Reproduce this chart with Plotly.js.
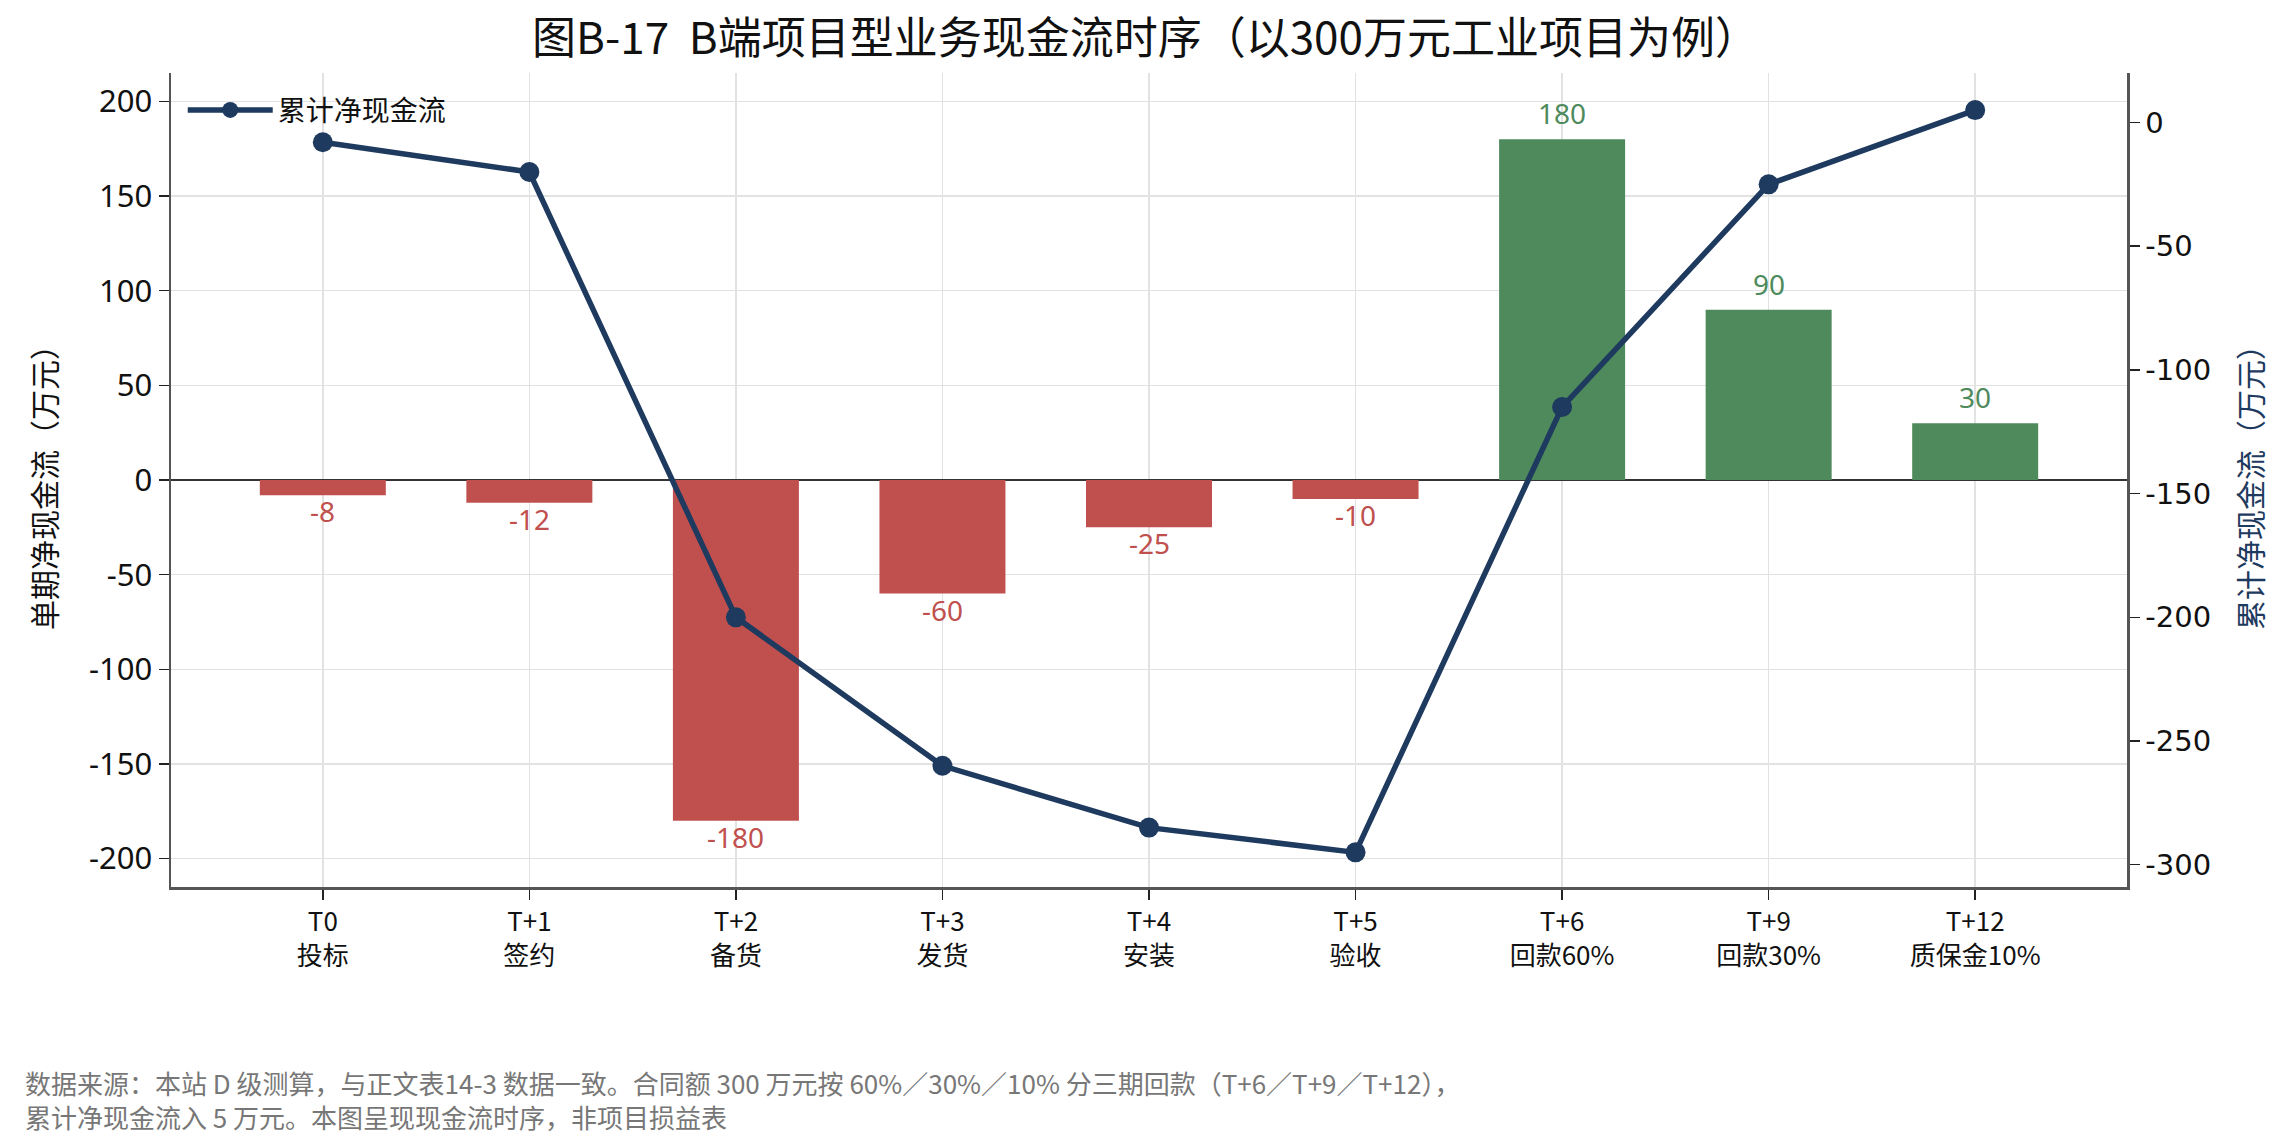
<!DOCTYPE html>
<html>
<head>
<meta charset="utf-8">
<script src="https://cdn.plot.ly/plotly-3.0.1.min.js"></script>
<style>
  html, body { margin: 0; padding: 0; background: #fff; }
  #chart { width: 2291px; height: 1148px; }
</style>
</head>
<body>
<div id="chart"></div>
<script>
// 时间节点（T+n）与阶段
const periods = ["T0", "T+1", "T+2", "T+3", "T+4", "T+5", "T+6", "T+9", "T+12"];
const stages = ["投标", "签约", "备货", "发货", "安装", "验收", "回款60%", "回款30%", "质保金10%"];
// 单期净现金流（万元）
const periodFlow = [-8, -12, -180, -60, -25, -10, 180, 90, 30];
// 累计净现金流（万元）
const cumulativeFlow = [-8, -20, -200, -260, -285, -295, -115, -25, 5];
// 坐标轴刻度
const leftTicks = [-200, -150, -100, -50, 0, 50, 100, 150, 200];
const rightTicks = [-300, -250, -200, -150, -100, -50, 0];

const RED = "#c0504e";
const GREEN = "#4e8a5c";
const NAVY = "#1e3a5f";
const FONT = "'Noto Sans CJK SC', 'Noto Sans', sans-serif";
const NUMFONT = "'Noto Sans', 'Noto Sans CJK SC', sans-serif";

const xIdx = periods.map((p, i) => i);
const tickText = periods.map((p, i) => p + "<br>" + stages[i]);
const barColors = periodFlow.map((v) => (v < 0 ? RED : GREEN));

const bars = {
  type: "bar",
  x: xIdx,
  y: periodFlow,
  width: 0.61,
  marker: { color: barColors },
  showlegend: false,
  hoverinfo: "skip",
};

const line = {
  type: "scatter",
  mode: "lines+markers",
  name: "累计净现金流",
  x: xIdx,
  y: cumulativeFlow,
  yaxis: "y2",
  line: { color: NAVY, width: 5.5 },
  marker: { color: NAVY, size: 20 },
};

// 柱顶/柱底数值标签
const barLabels = periodFlow.map((v, i) => ({
  x: i,
  y: v,
  xref: "x",
  yref: "y",
  text: String(v),
  showarrow: false,
  yanchor: "middle",
  yshift: v > 0 ? 26 : -16,
  font: { family: NUMFONT, size: 28, color: barColors[i] },
}));

const layout = {
  width: 2291,
  height: 1148,
  margin: { l: 171, r: 164, t: 73, b: 261 },
  paper_bgcolor: "#fff",
  plot_bgcolor: "#fff",
  font: { family: FONT, color: "#111" },
  title: {
    text: "图B-17  B端项目型业务现金流时序（以300万元工业项目为例）",
    font: { family: FONT, size: 44, color: "#111" },
    x: 0.5,
    xanchor: "center",
    y: 0.966,
    yanchor: "middle",
  },
  xaxis: {
    range: [-0.735, 8.735],
    tickvals: xIdx,
    ticktext: tickText,
    tickfont: { family: FONT, size: 26, color: "#111" },
    showgrid: true,
    gridcolor: "#e2e2e2",
    gridwidth: 1.5,
    showline: true,
    linecolor: "#555",
    linewidth: 2.5,
    ticks: "outside",
    ticklen: 10,
    tickwidth: 1.5,
    tickcolor: "#222",
    zeroline: false,
  },
  yaxis: {
    range: [-215, 215],
    tickvals: leftTicks,
    ticktext: leftTicks.map(String),
    tickfont: { family: NUMFONT, size: 31, color: "#111" },
    title: {
      text: "单期净现金流（万元）",
      font: { family: FONT, size: 30, color: "#111" },
      standoff: 24,
    },
    showgrid: true,
    gridcolor: "#e2e2e2",
    gridwidth: 1.5,
    zeroline: true,
    zerolinecolor: "#333",
    zerolinewidth: 2,
    showline: true,
    linecolor: "#555",
    linewidth: 2.5,
    ticks: "outside",
    ticklen: 10,
    tickwidth: 1.5,
    tickcolor: "#222",
  },
  yaxis2: {
    overlaying: "y",
    side: "right",
    range: [-309, 20],
    tickvals: rightTicks,
    ticktext: rightTicks.map(String),
    tickfont: { family: "'DejaVu Sans', sans-serif", size: 29, color: "#111" },
    title: {
      text: "累计净现金流（万元）",
      font: { family: FONT, size: 30, color: NAVY },
      standoff: 31,
    },
    showgrid: false,
    zeroline: false,
    showline: true,
    linecolor: "#555",
    linewidth: 2.5,
    ticks: "outside",
    ticklen: 10,
    tickwidth: 1.5,
    tickcolor: "#222",
  },
  legend: {
    x: 0.006,
    y: 0.985,
    xanchor: "left",
    yanchor: "top",
    itemwidth: 85,
    bgcolor: "rgba(255,255,255,0)",
    font: { family: FONT, size: 28, color: "#111" },
  },
  annotations: barLabels.concat([
    {
      xref: "paper",
      yref: "paper",
      x: -0.0757,
      y: -0.215,
      xanchor: "left",
      yanchor: "top",
      align: "left",
      showarrow: false,
      text:
        "数据来源：本站 D 级测算，与正文表14-3 数据一致。合同额 300 万元按 60%／30%／10% 分三期回款（T+6／T+9／T+12），<br>" +
        "累计净现金流入 5 万元。本图呈现现金流时序，非项目损益表",
      font: { family: FONT, size: 26, color: "#777" },
    },
  ]),
};

Plotly.newPlot("chart", [bars, line], layout, { displayModeBar: false, staticPlot: true });
</script>
</body>
</html>
